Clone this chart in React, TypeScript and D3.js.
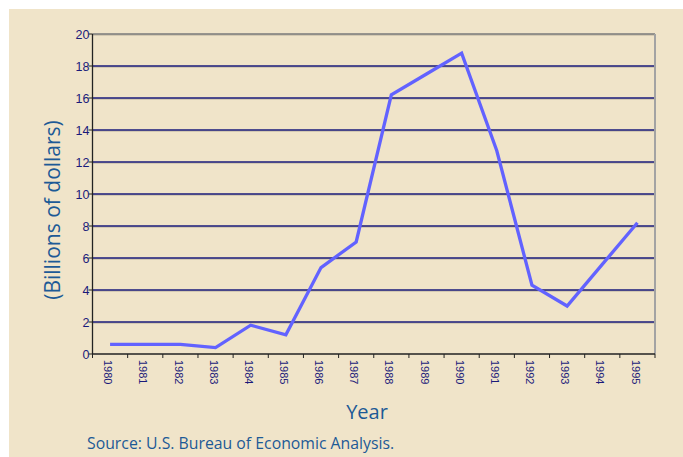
import React from "react";
import * as d3 from "d3";

const years = ["1980","1981","1982","1983","1984","1985","1986","1987","1988","1989","1990","1991","1992","1993","1994","1995"];
const values = [0.6,0.6,0.6,0.4,1.8,1.2,5.4,7.0,16.2,17.5,18.8,12.7,4.3,3.0,5.6,8.2];
const yTicks = [0,2,4,6,8,10,12,14,16,18,20];
const yLabel = "(Billions of dollars)";
const xLabel = "Year";
const source = "Source: U.S. Bureau of Economic Analysis.";

export default function App() {
  const W = 683, H = 457;
  const left = 92.5, right = 655, top = 34, bottom = 354;
  const x = d3.scaleBand<string>().domain(years).range([left, right]).padding(0);
  const y = d3.scaleLinear().domain([0, 20]).range([bottom, top]);
  const line = d3.line<number>()
    .x((_, i) => (x(years[i]) as number) + x.bandwidth() / 2)
    .y((d) => y(d));
  const tickXs = years.map((yr) => x(yr) as number).concat([right]);
  const navy = "#1a1a7a";
  const blue = "#1d5a96";
  return (
    <svg width={W} height={H} style={{ position: "absolute", left: 0, top: 0 }}>
      <rect x={9} y={9} width={W - 9} height={H - 9} fill="#f0e4c9" />
      {yTicks.filter((t) => t > 0).map((t) => (
        <g key={t}>
          <line x1={left} x2={right} y1={y(t) + 1} y2={y(t) + 1} stroke="#b8ae9c" strokeWidth={1} />
          <line x1={left} x2={right} y1={y(t)} y2={y(t)} stroke={t === 20 ? "#7a7a7a" : navy} strokeWidth={1.3} />
        </g>
      ))}
      <line x1={right} x2={right} y1={top} y2={bottom} stroke="#a3a3a3" strokeWidth={2} />
      <line x1={left} x2={left} y1={top} y2={bottom} stroke="#222" strokeWidth={1.3} />
      <line x1={left} x2={right} y1={bottom} y2={bottom} stroke="#222" strokeWidth={1.3} />
      {yTicks.map((t) => (
        <g key={"yt" + t}>
          <line x1={left - 4} x2={left} y1={y(t)} y2={y(t)} stroke="#222" strokeWidth={1} />
          <text x={left - 3} y={y(t)} dy="0.36em" textAnchor="end" fontFamily="Liberation Sans, Arial, sans-serif" fontSize={12.5} fill={navy}>{t}</text>
        </g>
      ))}
      {tickXs.map((tx, i) => (
        <line key={"xt" + i} x1={tx} x2={tx} y1={bottom} y2={bottom + 4} stroke="#222" strokeWidth={1} />
      ))}
      {years.map((yr) => {
        const cx = (x(yr) as number) + x.bandwidth() / 2 - 2;
        return (
          <text key={yr} transform={`translate(${cx},${bottom + 6}) rotate(90)`} dy="0.35em" fontFamily="Liberation Sans, Arial, sans-serif" fontSize={11} fill={navy}>{yr}</text>
        );
      })}
      <path d={line(values) || ""} fill="none" stroke="#6262ff" strokeWidth={3.3} strokeLinejoin="miter" />
      <text transform={`translate(60,210) rotate(-90)`} textAnchor="middle" fontFamily="Open Sans, sans-serif" fontSize={21} fill={blue}>{yLabel}</text>
      <text x={367} y={419} textAnchor="middle" fontFamily="Open Sans, sans-serif" fontSize={20} fill={blue}>{xLabel}</text>
      <text x={87} y={449} fontFamily="Open Sans, sans-serif" fontSize={15.8} fill={blue}>{source}</text>
    </svg>
  );
}
